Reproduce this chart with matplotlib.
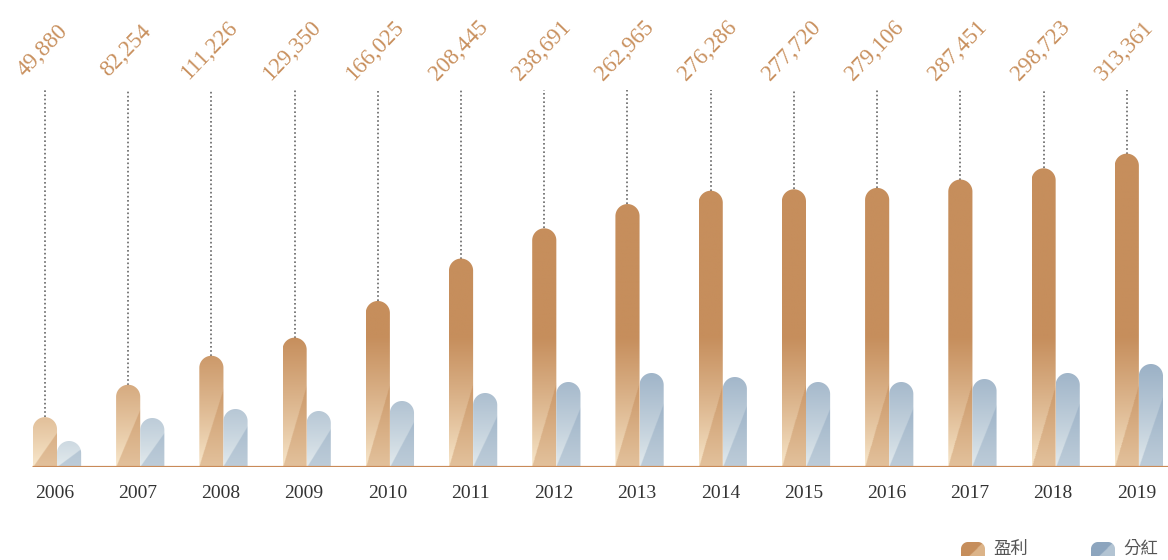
import numpy as np
import matplotlib
matplotlib.use('Agg')
import matplotlib.pyplot as plt
from matplotlib.path import Path
from matplotlib.patches import PathPatch
from matplotlib.colors import to_rgb

# ---- data ----
years = ['2006', '2007', '2008', '2009', '2010', '2011', '2012',
         '2013', '2014', '2015', '2016', '2017', '2018', '2019']
profit = [49880, 82254, 111226, 129350, 166025, 208445, 238691,
          262965, 276286, 277720, 279106, 287451, 298723, 313361]
dividend = [26000, 49000, 58000, 56000, 66000, 74000, 85000,
            94000, 90000, 85000, 85000, 88000, 94000, 103000]
series_names = ['盈利', '分紅']

# ---- style ----
W, H = 1168, 560
ORANGE = np.array(to_rgb('#C68E5C'))
ORANGE_LIGHT = np.array(to_rgb('#FAEBD0'))
BLUE = np.array(to_rgb('#8CA5BE'))
BLUE_LIGHT = np.array(to_rgb('#E6EDEF'))
LABEL_COLOR = '#C9915F'
SERIF = 'Liberation Serif'

fig = plt.figure(figsize=(W / 100, H / 100), dpi=100)
ax_bottom_px = 93
ax = fig.add_axes([0, ax_bottom_px / H, 1, 1 - ax_bottom_px / H])
XMIN, XMAX = -0.685, 13.35
YMAX = 467000
px_per_x = W / (XMAX - XMIN)
px_per_y = (H - ax_bottom_px) / YMAX
bw = 0.29


def rounded_top_path(x0, x1, y0, y1, rx, ry, n=24):
    s = 1 if y1 >= y0 else -1
    yc = y1 - s * ry
    verts = [(x0, y0), (x0, yc)]
    for a in np.linspace(np.pi, np.pi / 2, n):
        verts.append((x0 + rx + rx * np.cos(a), yc + s * ry * np.sin(a)))
    for a in np.linspace(np.pi / 2, 0, n):
        verts.append((x1 - rx + rx * np.cos(a), yc + s * ry * np.sin(a)))
    verts += [(x1, y0), (x0, y0)]
    codes = [Path.MOVETO] + [Path.LINETO] * (len(verts) - 2) + [Path.CLOSEPOLY]
    return Path(verts, codes)


def bar_colors(h, solid, light, ny=300, nx=48):
    yk = np.linspace(0, h, ny)[:, None] / 1000.0
    xr = np.linspace(0, 1, nx)[None, :]
    G = 130.0
    f = np.clip(yk / G, 0, 1) ** 0.8 * np.ones_like(xr)
    D = 0.7 * min(h / 1000.0, 120.0)
    lower = yk < D * xr
    f2 = np.clip(yk / G * 0.7 + 0.45, 0, 1) * np.ones_like(xr)
    f = np.where(lower, np.maximum(f, f2), f)
    return light[None, None, :] + (solid - light)[None, None, :] * f[..., None]


def draw_bar(axis, x0, h, solid, light):
    x1 = x0 + bw
    rx = bw / 2
    ry = rx * px_per_x / px_per_y
    path = rounded_top_path(x0, x1, 0, h, rx, ry)
    patch = PathPatch(path, facecolor='none', edgecolor='none', transform=axis.transData)
    axis.add_patch(patch)
    img = axis.imshow(bar_colors(h, solid, light), extent=[x0, x1, 0, h], origin='lower',
                      aspect='auto', interpolation='bilinear', zorder=2)
    img.set_clip_path(patch)


x = np.arange(len(years))
for i in range(len(years)):
    draw_bar(ax, x[i] - bw, profit[i], ORANGE, ORANGE_LIGHT)
    draw_bar(ax, x[i], dividend[i], BLUE, BLUE_LIGHT)
    xc = x[i] - bw / 2
    ax.vlines(xc, profit[i], 377000, colors='#666666', linestyles=(0, (1, 1.5)), lw=1.2, zorder=1)
    ax.text(xc - 0.03, 416000, f'{profit[i]:,}', rotation=46, ha='center', va='center',
            fontsize=16.5, color=LABEL_COLOR, family=SERIF)
    ax.text(x[i] - 0.03, -26000, years[i], ha='center', va='center', fontsize=14,
            color='#333333', family=SERIF, clip_on=False)

ax.hlines(0, -0.30, XMAX, colors='#C98A58', lw=2.3, zorder=3)
ax.set_xlim(XMIN, XMAX)
ax.set_ylim(0, YMAX)
ax.axis('off')

# ---- legend (pixel-space overlay) ----
ax2 = fig.add_axes([0, 0, 1, 1])
ax2.set_xlim(0, W)
ax2.set_ylim(H, 0)
ax2.axis('off')


def swatch(x0, solid, lightc):
    x1 = x0 + 24
    path = rounded_top_path(x0, x1, 556, 542, 7, 7)
    patch = PathPatch(path, facecolor='none', edgecolor='none', transform=ax2.transData)
    ax2.add_patch(patch)
    ny, nx = 30, 48
    yr = np.linspace(0, 1, ny)[:, None]
    xr = np.linspace(0, 1, nx)[None, :]
    m = (xr - 0.35) > (yr * 0.6)
    f = np.where(m, 0.35, 1.0) * np.ones((ny, nx))
    arr = lightc[None, None, :] + (solid - lightc)[None, None, :] * f[..., None]
    img = ax2.imshow(arr, extent=[x0, x1, 556, 542], origin='lower', aspect='auto',
                     interpolation='bilinear')
    img.set_clip_path(patch)


swatch(961, ORANGE, np.array(to_rgb('#E9C9A2')))
swatch(1091, BLUE, np.array(to_rgb('#C8D5DF')))
ax2.text(993, 549, series_names[0], ha='left', va='center', fontsize=12.5, color='#555555',
         family=['Noto Sans CJK TC', 'DejaVu Sans'])
ax2.text(1123, 549, series_names[1], ha='left', va='center', fontsize=12.5, color='#555555',
         family=['Noto Sans CJK TC', 'DejaVu Sans'])
ax2.set_xlim(0, W)
ax2.set_ylim(H, 0)

fig.savefig('out.png', dpi=100)
